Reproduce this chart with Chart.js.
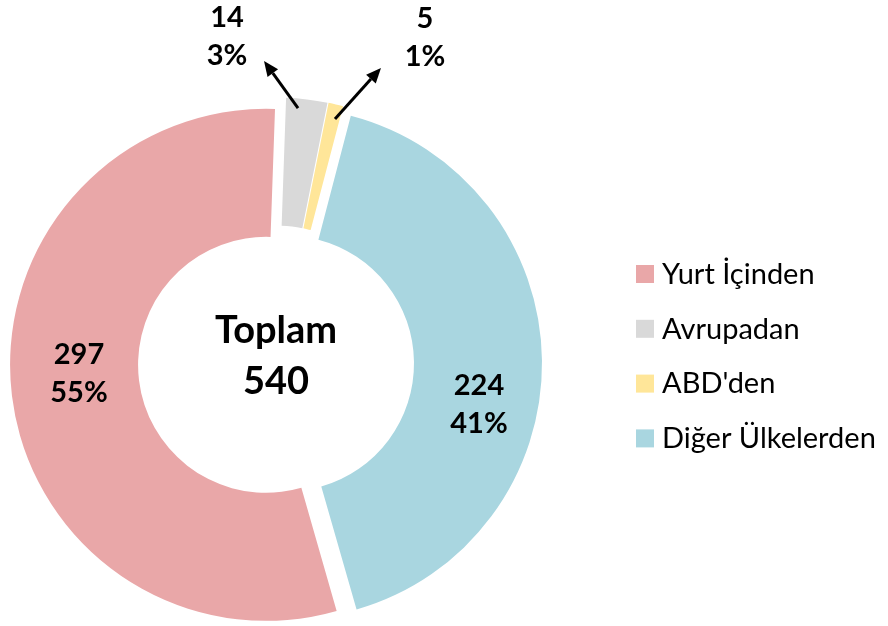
<!DOCTYPE html>
<html>
<head>
<meta charset="utf-8">
<script src="https://cdn.jsdelivr.net/npm/chart.js@4.4.1/dist/chart.umd.min.js"></script>
<style>
  html, body { margin: 0; padding: 0; background: #fff; }
</style>
</head>
<body>
<canvas id="chart" width="888" height="626"></canvas>
<script>
// chart data
const labels = ['Yurt İçinden', 'Avrupadan', "ABD'den", 'Diğer Ülkelerden'];
const counts = [297, 14, 5, 224];
const colors = ['#E9A7A8', '#D9D9D9', '#FFE699', '#A9D6E0'];
const centerTitle = 'Toplam';

const FONT = 'Lato, "Open Sans", sans-serif';
const EXPLODE = 10;          // how far each slice is pulled out

// where the value labels sit, relative to the slice anchor
// text: [dx, dy] of the label block, arrow: [x1, y1, x2, y2] for outside labels
const labelPlaces = [
    { text: [3.5, -5.7] },
    { text: [-78.7, -63.8], arrow: [-7.7, -1.3, -41.7, -48.3] },
    { text: [91.4, -66.7], arrow: [1.4, 4.8, 47.4, -46.2] },
    { text: [1, 52.3] }
];

const total = counts.reduce((a, b) => a + b, 0);

function drawArrow(ctx, x1, y1, x2, y2) {
    const ang = Math.atan2(y2 - y1, x2 - x1);
    const head = 15, half = 6.5;
    const bx = x2 - Math.cos(ang) * head;
    const by = y2 - Math.sin(ang) * head;
    ctx.lineWidth = 3;
    ctx.beginPath();
    ctx.moveTo(x1, y1);
    ctx.lineTo(bx, by);
    ctx.stroke();
    ctx.beginPath();
    ctx.moveTo(x2, y2);
    ctx.lineTo(bx + Math.sin(ang) * half, by - Math.cos(ang) * half);
    ctx.lineTo(bx - Math.sin(ang) * half, by + Math.cos(ang) * half);
    ctx.closePath();
    ctx.fill();
}

// pull every slice out from the centre by the same distance
const explodePlugin = {
    id: 'explode',
    beforeDatasetDraw(chart, args) {
        const ctx = chart.ctx;
        args.meta.data.forEach(arc => {
            const mid = (arc.startAngle + arc.endAngle) / 2;
            ctx.save();
            ctx.translate(Math.cos(mid) * EXPLODE, Math.sin(mid) * EXPLODE);
            arc.draw(ctx);
            ctx.restore();
        });
        return false;
    }
};

const sliceLabels = {
    id: 'sliceLabels',
    afterDatasetsDraw(chart) {
        const ctx = chart.ctx;
        const arcs = chart.getDatasetMeta(0).data;
        ctx.save();
        ctx.fillStyle = '#000';
        ctx.strokeStyle = '#000';
        ctx.textAlign = 'center';
        ctx.textBaseline = 'alphabetic';
        ctx.font = 'bold 29px ' + FONT;
        arcs.forEach((arc, i) => {
            const place = labelPlaces[i];
            const mid = (arc.startAngle + arc.endAngle) / 2;
            const cx = arc.x + Math.cos(mid) * EXPLODE;
            const cy = arc.y + Math.sin(mid) * EXPLODE;
            const r = place.arrow ? arc.outerRadius - 10 : (arc.innerRadius + arc.outerRadius) / 2;
            const ax = cx + Math.cos(mid) * r;
            const ay = cy + Math.sin(mid) * r;
            if (place.arrow) {
                const a = place.arrow;
                drawArrow(ctx, ax + a[0], ay + a[1], ax + a[2], ay + a[3]);
            }
            const tx = ax + place.text[0];
            const ty = ay + place.text[1];
            ctx.fillText(String(counts[i]), tx, ty - 19);
            ctx.fillText(Math.round(counts[i] / total * 100) + '%', tx, ty + 19);
        });
        const c = arcs[0];
        ctx.font = 'bold 38px ' + FONT;
        ctx.fillText(centerTitle, c.x, c.y - 20.6);
        ctx.fillText(String(total), c.x, c.y + 30);
        ctx.restore();
    }
};

// legend on the right, boxes and names from the dataset
const sideLegend = {
    id: 'sideLegend',
    afterDraw(chart) {
        const ctx = chart.ctx;
        const ds = chart.data.datasets[0];
        ctx.save();
        ctx.font = '29px ' + FONT;
        ctx.textAlign = 'left';
        ctx.textBaseline = 'middle';
        chart.data.labels.forEach((name, i) => {
            const top = 265 + i * 54.8;
            ctx.fillStyle = ds.backgroundColor[i];
            ctx.fillRect(636, top, 18, 18);
            ctx.fillStyle = '#000';
            ctx.fillText(name, 662, top + 9.5);
        });
        ctx.restore();
    }
};

new Chart(document.getElementById('chart'), {
    type: 'doughnut',
    data: {
        labels: labels,
        datasets: [{
            data: counts,
            backgroundColor: colors,
            borderWidth: 0,
            radius: 256,
            cutout: '50%',
            rotation: 164
        }]
    },
    options: {
        responsive: false,
        animation: false,
        layout: {
            padding: { left: 0, top: 101.2, right: 336, bottom: 0 }
        },
        plugins: {
            legend: { display: false },
            tooltip: { enabled: false }
        }
    },
    plugins: [explodePlugin, sliceLabels, sideLegend]
});
</script>
</body>
</html>
